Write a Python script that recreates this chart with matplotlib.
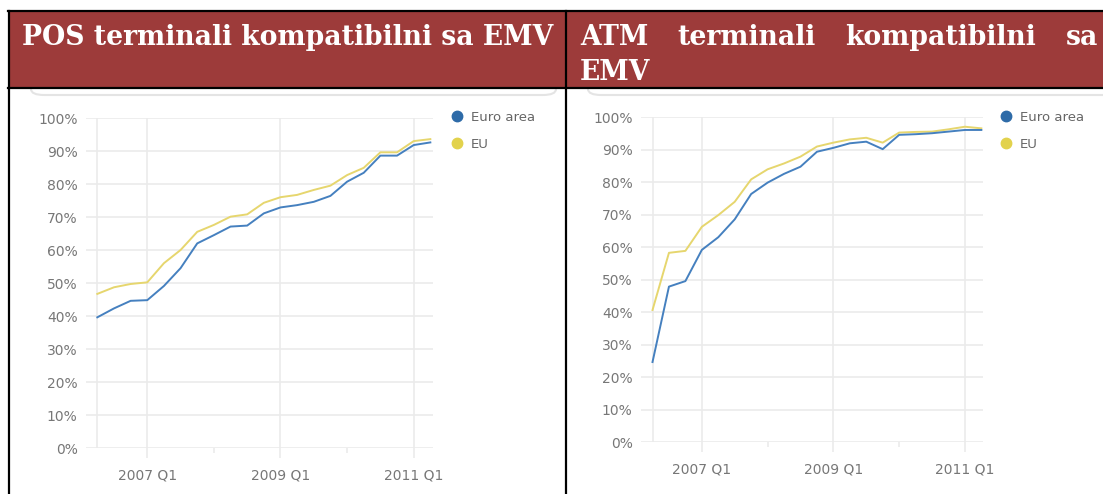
import matplotlib
matplotlib.use('Agg')
import matplotlib.pyplot as plt
from matplotlib.patches import Rectangle, FancyBboxPatch
from matplotlib.lines import Line2D

# quarterly periods shown on both charts
periods = ['2006 Q2', '2006 Q3', '2006 Q4',
           '2007 Q1', '2007 Q2', '2007 Q3', '2007 Q4',
           '2008 Q1', '2008 Q2', '2008 Q3', '2008 Q4',
           '2009 Q1', '2009 Q2', '2009 Q3', '2009 Q4',
           '2010 Q1', '2010 Q2', '2010 Q3', '2010 Q4',
           '2011 Q1', '2011 Q2']
major_labels = ['2007 Q1', '2009 Q1', '2011 Q1']
minor_labels = ['2008 Q1', '2010 Q1']

# share of EMV compliant terminals (%)
pos_euro = [39.6, 42.3, 44.6, 44.8, 49.1, 54.5, 62.0, 64.5, 67.1, 67.4, 71.1,
            72.9, 73.6, 74.6, 76.4, 80.7, 83.4, 88.6, 88.6, 91.8, 92.6]
pos_eu = [46.7, 48.7, 49.7, 50.2, 56.0, 60.0, 65.5, 67.6, 70.1, 70.8, 74.3,
          76.0, 76.7, 78.2, 79.5, 82.7, 84.9, 89.6, 89.6, 93.0, 93.6]
atm_euro = [24.7, 47.9, 49.6, 59.2, 63.1, 68.6, 76.4, 79.9, 82.6, 84.8, 89.4,
            90.6, 92.0, 92.5, 90.2, 94.6, 94.8, 95.1, 95.6, 96.1, 96.1]
atm_eu = [40.7, 58.3, 58.9, 66.3, 69.9, 74.0, 80.9, 84.0, 85.8, 87.9, 91.0,
          92.2, 93.2, 93.7, 92.2, 95.3, 95.5, 95.6, 96.3, 97.1, 96.6]

series_names = ['Euro area', 'EU']
header_left = 'POS terminali kompatibilni sa EMV'
header_right_words = ['ATM', 'terminali', 'kompatibilni', 'sa']
header_right_line2 = 'EMV'

W, H = 1103, 494
fig = plt.figure(figsize=(W / 100, H / 100), dpi=100)


def fx(x):
    return x / W


def fy(y):
    return 1 - y / H


line_blue = '#4580BF'
line_yellow = '#E6D66E'
dot_blue = '#2E6BA8'
dot_yellow = '#E2D24C'
grid_c = '#EBEBEB'
text_c = '#777777'
header_c = '#9D3B3A'

# faint rounded boxes just under the header
for x0, x1 in [(31, 556), (588, 1120)]:
    box = FancyBboxPatch((fx(x0), fy(95)), fx(x1 - x0), fy(40) - fy(95),
                         boxstyle='round,pad=0,rounding_size=0.012',
                         transform=fig.transFigure, facecolor='white',
                         edgecolor='#E4E4E4', lw=1.5, zorder=0)
    fig.add_artist(box)

# header band
fig.add_artist(Rectangle((fx(8), fy(88)), fx(W - 8), fy(11) - fy(88),
                         transform=fig.transFigure, facecolor=header_c,
                         edgecolor='none', zorder=2))
for y in [11, 88]:
    fig.add_artist(Line2D([fx(8), 1], [fy(y), fy(y)], transform=fig.transFigure,
                          color='black', lw=1.6, zorder=3))
for x in [8.5, 566]:
    fig.add_artist(Line2D([fx(x), fx(x)], [fy(11), 0], transform=fig.transFigure,
                          color='black', lw=1.6, zorder=3))

hfont = dict(family='DejaVu Serif', weight='bold', color='white', size=19.2, zorder=4)
fig.text(fx(22), fy(45), header_left, ha='left', va='baseline', **hfont)

# justified first line of the right header: spread the words between 580 and 1098 px
renderer = fig.canvas.get_renderer()
words = [fig.text(0, fy(45), w, ha='left', va='baseline', **hfont)
         for w in header_right_words]
widths = [t.get_window_extent(renderer).width for t in words]
gap = (1098 - 580 - sum(widths)) / (len(words) - 1)
pos = 580
for t, w in zip(words, widths):
    t.set_x(fx(pos))
    pos += w + gap
fig.text(fx(580), fy(80), header_right_line2, ha='left', va='baseline', **hfont)


def draw_chart(rect, xlim, euro, eu, legend_xy):
    ax = fig.add_axes(rect)
    x = list(range(len(periods)))
    ax.plot(x, euro, color=line_blue, lw=1.4, zorder=3, label=series_names[0])
    ax.plot(x, eu, color=line_yellow, lw=1.4, zorder=2, label=series_names[1])
    ax.set_xlim(*xlim)
    ax.set_ylim(0, 100)
    for s in ax.spines.values():
        s.set_visible(False)
    for v in range(0, 101, 10):
        ax.axhline(v, color=grid_c, lw=1.2, zorder=0)
    majors = [periods.index(p) for p in major_labels]
    minors = [periods.index(p) for p in minor_labels]
    for p in [0] + majors:
        ax.axvline(p, color=grid_c, lw=1.2, zorder=0)
    ax.set_yticks(range(0, 101, 10))
    ax.set_yticklabels([f'{v}%' for v in range(0, 101, 10)])
    ax.set_xticks(majors)
    ax.set_xticklabels(major_labels)
    ax.set_xticks(minors, minor=True)
    ax.tick_params(axis='y', length=0, pad=6, labelsize=10, labelcolor=text_c)
    ax.tick_params(axis='x', which='major', length=7, width=1.2, color=grid_c,
                   pad=7.5, labelsize=10, labelcolor=text_c)
    ax.tick_params(axis='x', which='minor', length=3.5, width=1.2, color=grid_c)
    handles = [Line2D([], [], marker='o', ls='none', ms=7.5, color=dot_blue),
               Line2D([], [], marker='o', ls='none', ms=7.5, color=dot_yellow)]
    fig.legend(handles, series_names, loc='upper left',
               bbox_to_anchor=legend_xy, frameon=False, fontsize=9.5,
               labelcolor='#666666', handletextpad=0.6, labelspacing=1.05,
               handlelength=1.0, borderaxespad=0, borderpad=0)
    return ax


draw_chart([fx(86), fy(448), fx(433 - 86), fy(118) - fy(448)], (-0.68, 20.16),
           pos_euro, pos_eu, (fx(450), fy(111)))
draw_chart([fx(641), fy(442.3), fx(983 - 641), fy(117.3) - fy(442.3)], (-0.7, 20.1),
           atm_euro, atm_eu, (fx(999), fy(111)))

fig.savefig('out.png', dpi=100)
